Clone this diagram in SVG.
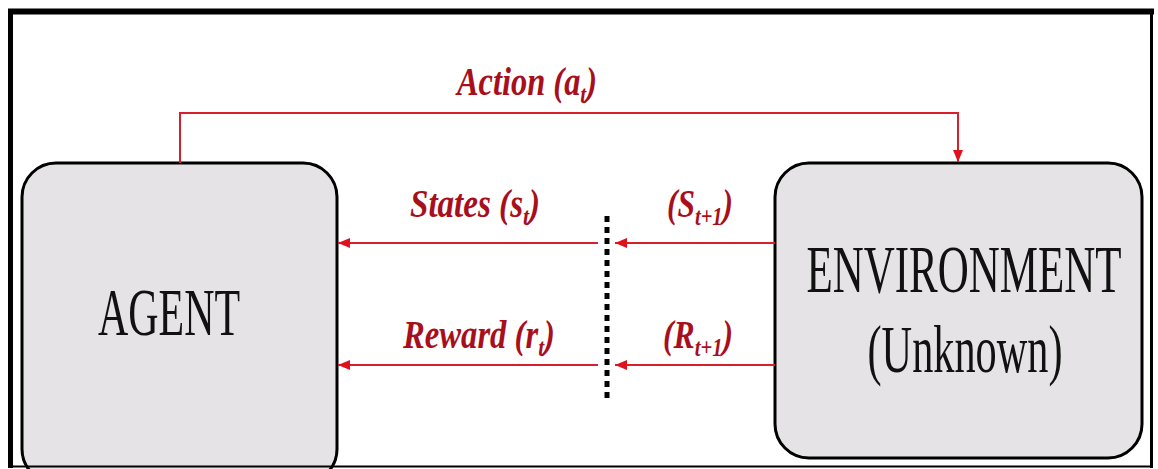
<svg xmlns="http://www.w3.org/2000/svg" width="1158" height="469" viewBox="0 0 1158 469">
  <defs>
    <marker id="arrow" viewBox="0 0 12 10" refX="12" refY="5" markerWidth="12" markerHeight="10" markerUnits="userSpaceOnUse" orient="auto">
      <path d="M0,0 L12,5 L0,10 Z" fill="#e0101c"/>
    </marker>
    <style>
      .box { fill: #e5e3e5; stroke: #000; stroke-width: 3; }
      .node-text { font-family: "Liberation Serif", "Times New Roman", serif; font-size: 68px; fill: #111; }
      .wire { fill: none; stroke: #d8202c; stroke-width: 2; }
      .label { font-family: "Liberation Serif", "Times New Roman", serif; font-weight: bold; font-style: italic; font-size: 40px; fill: #a80f1c; }
      .sub { font-size: 26px; }
      .frame { stroke: #000; fill: none; }
    </style>
  </defs>
  <rect width="1158" height="469" fill="#fff"/>

  <g id="agent">
    <rect class="box" x="22" y="163" width="315" height="320" rx="34" ry="34"/>
    <text class="node-text" x="169" y="335" text-anchor="middle" textLength="142" lengthAdjust="spacingAndGlyphs">AGENT</text>
  </g>

  <g id="environment">
    <rect class="box" x="775" y="163" width="367" height="295" rx="34" ry="34"/>
    <text class="node-text" x="964" y="292" text-anchor="middle" textLength="315" lengthAdjust="spacingAndGlyphs">ENVIRONMENT</text>
    <text class="node-text" x="965" y="372" text-anchor="middle" textLength="195" lengthAdjust="spacingAndGlyphs">(Unknown)</text>
  </g>

  <g id="connectors">
    <!-- action: agent top, over, down into environment -->
    <path class="wire" d="M180,163 V113 H958 V162" marker-end="url(#arrow)"/>
    <!-- state and reward paths through the observation barrier -->
    <path class="wire" d="M775,243 H615" marker-end="url(#arrow)"/>
    <path class="wire" d="M598,243 H338" marker-end="url(#arrow)"/>
    <path class="wire" d="M775,365 H615" marker-end="url(#arrow)"/>
    <path class="wire" d="M598,365 H338" marker-end="url(#arrow)"/>
    <!-- dotted barrier -->
    <line x1="607" y1="216" x2="607" y2="398" stroke="#000" stroke-width="5" stroke-dasharray="6 5"/>
  </g>

  <g id="labels">
    <text class="label" x="457" y="95" textLength="140" lengthAdjust="spacingAndGlyphs">Action (a<tspan class="sub" dy="8">t</tspan><tspan dy="-8">)</tspan></text>
    <text class="label" x="410" y="217" textLength="130" lengthAdjust="spacingAndGlyphs">States (s<tspan class="sub" dy="8">t</tspan><tspan dy="-8">)</tspan></text>
    <text class="label" x="667" y="217" textLength="66" lengthAdjust="spacingAndGlyphs">(S<tspan class="sub" dy="8">t+1</tspan><tspan dy="-8">)</tspan></text>
    <text class="label" x="403" y="348" textLength="152" lengthAdjust="spacingAndGlyphs">Reward (r<tspan class="sub" dy="8">t</tspan><tspan dy="-8">)</tspan></text>
    <text class="label" x="663" y="348" textLength="70" lengthAdjust="spacingAndGlyphs">(R<tspan class="sub" dy="8">t+1</tspan><tspan dy="-8">)</tspan></text>
  </g>

  <g id="frame">
    <line class="frame" x1="8" y1="11.5" x2="1154" y2="11.5" stroke-width="6"/>
    <line class="frame" x1="10.5" y1="9" x2="10.5" y2="468" stroke-width="5"/>
    <line class="frame" x1="1151.5" y1="9" x2="1151.5" y2="468" stroke-width="3"/>
    <line class="frame" x1="8" y1="466.5" x2="1153" y2="466.5" stroke-width="2"/>
  </g>
</svg>
